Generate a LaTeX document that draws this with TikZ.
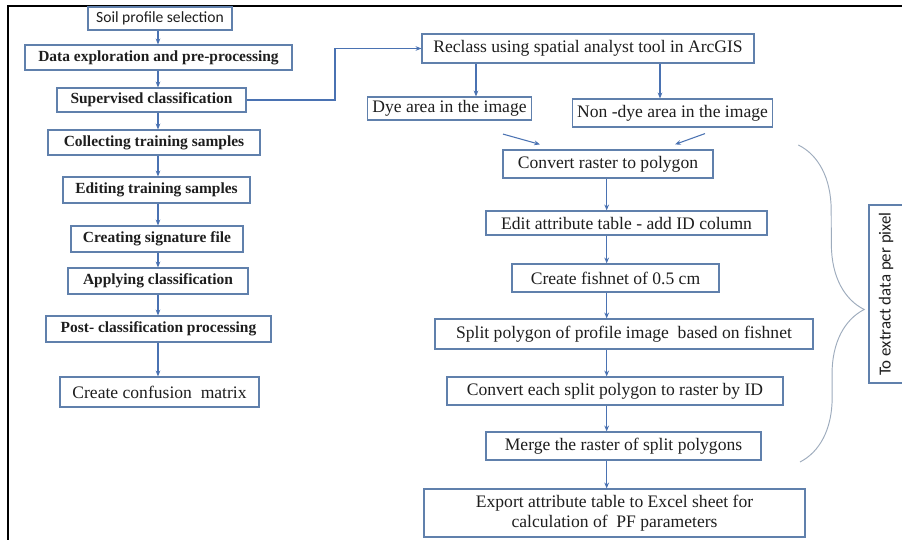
\documentclass[tikz,border=0pt]{standalone}
\usepackage{fontspec}
\setmainfont{Liberation Serif}
\newfontfamily\calibri{Carlito}
\usetikzlibrary{arrows.meta, decorations.pathreplacing}
\definecolor{boxline}{HTML}{6080AC}
\definecolor{flowblue}{HTML}{4A72B2}
\definecolor{bracegray}{HTML}{9EACBD}
\definecolor{txt}{HTML}{1E1E1E}

\tikzset{
  procbox/.style={draw=boxline, line width=1pt, fill=white, text=txt,
    inner xsep=4pt, inner ysep=2pt, align=center},
  leftstep/.style={procbox, font=\fontsize{13.2}{15}\selectfont\bfseries},
  rightstep/.style={procbox, font=\fontsize{15}{17}\selectfont},
  flow/.style={->, flowblue, line width=0.9pt},
}

\begin{document}
\begin{tikzpicture}[>={Stealth[length=5pt, width=4pt]}]

% Page and frame
\useasboundingbox (0,0) rectangle (27.06,-16.2);
\fill[white] (0,0) rectangle (27.06,-16.2);
\draw[black, line width=1.6pt] (27.06,-0.18) -- (0.24,-0.18) -- (0.24,-16.2);

% Columns the arrows run along
\coordinate (lspine) at (4.74,0);
\coordinate (rspine) at (18.2,0);
\coordinate (bendR) at (10.05,0);
\coordinate (dyeX) at (14.28,0);
\coordinate (nondyeX) at (19.8,0);

% =========== LEFT COLUMN: classification ===========
\node[procbox, font=\calibri\fontsize{13.3}{15}\selectfont,
      minimum width=4.32cm, minimum height=0.69cm] (soil) at (4.80,-0.555) {Soil profile selection};
\node[leftstep, minimum width=8.01cm, minimum height=0.75cm] (explore) at (4.755,-1.725) {Data exploration and pre-processing};
\node[leftstep, minimum width=5.67cm, minimum height=0.72cm] (superv) at (4.545,-3.0) {Supervised classification};
\node[leftstep, minimum width=6.36cm, minimum height=0.75cm] (collect) at (4.62,-4.275) {Collecting training samples};
\node[leftstep, minimum width=5.61cm, minimum height=0.78cm] (edit) at (4.695,-5.7) {Editing training samples};
\node[leftstep, minimum width=5.16cm, minimum height=0.78cm] (signature) at (4.71,-7.17) {Creating signature file};
\node[leftstep, minimum width=5.4cm, minimum height=0.78cm] (apply) at (4.74,-8.43) {Applying classification};
\node[leftstep, minimum width=6.75cm, minimum height=0.78cm] (post) at (4.755,-9.87) {Post- classification processing};
\node[rightstep, minimum width=5.97cm, minimum height=0.9cm] (confusion) at (4.785,-11.76) {Create confusion~ matrix};

\foreach \a/\b in {soil/explore, explore/superv, superv/collect, collect/edit,
                   edit/signature, signature/apply, apply/post, post/confusion}
  \draw[flow] (\a.south -| lspine) -- (\b.north -| lspine);

% =========== RIGHT COLUMN: per-pixel extraction ===========
\node[rightstep, minimum width=9.96cm, minimum height=0.87cm] (reclass) at (17.64,-1.455) {Reclass using spatial analyst tool in ArcGIS};
\node[rightstep, minimum width=4.83cm, minimum height=0.69cm] (dye) at (13.485,-3.255) {Dye area in the image};
\node[rightstep, minimum width=5.85cm, minimum height=0.84cm] (nondye) at (20.175,-3.39) {Non -dye area in the image};
\node[rightstep, minimum width=6.3cm, minimum height=0.84cm] (topoly) at (18.24,-4.92) {Convert raster to polygon};
\node[rightstep, minimum width=8.43cm, minimum height=0.72cm] (attrib) at (18.795,-6.69) {Edit attribute table - add ID column};
\node[rightstep, minimum width=6.21cm, minimum height=0.84cm] (fishnet) at (18.465,-8.34) {Create fishnet of 0.5 cm};
\node[rightstep, minimum width=11.34cm, minimum height=0.9cm] (split) at (18.72,-10.02) {Split polygon of profile image~ based on fishnet};
\node[rightstep, minimum width=10.08cm, minimum height=0.84cm] (toraster) at (18.45,-11.73) {Convert each split polygon to raster by ID};
\node[rightstep, minimum width=8.25cm, minimum height=0.84cm] (merge) at (18.705,-13.38) {Merge the raster of split polygons};
\node[rightstep, minimum width=11.43cm, minimum height=1.44cm] (export) at (18.435,-15.39)
  {Export attribute table to Excel sheet for\\calculation of~ PF parameters};

% Link from the classification into ArcGIS
\draw[flow] (superv.east) -- (superv.east -| bendR) |- (reclass.west);

\draw[flow] (reclass.south -| dyeX) -- (dye.north -| dyeX);
\draw[flow] (reclass.south -| nondyeX) -- (nondye.north -| nondyeX);
\draw[flow] ([shift={(1.605,-0.405)}]dye.south) -- ([shift={(-2.04,0.15)}]topoly.north);
\draw[flow] ([shift={(0.975,-0.18)}]nondye.south) -- ([shift={(2.01,0.15)}]topoly.north);

\foreach \a/\b in {topoly/attrib, attrib/fishnet, fishnet/split,
                   split/toraster, toraster/merge, merge/export}
  \draw[flow] (\a.south -| rspine) -- (\b.north -| rspine);

% Brace over the per-pixel steps
\draw[decorate, decoration={brace, amplitude=1.95cm, aspect=0.52}, bracegray, line width=0.8pt]
  (23.95,-4.35) -- (24.0,-13.86);
\node[draw=boxline, line width=1pt, rotate=90, text=txt,
      minimum width=5.34cm, minimum height=1.02cm,
      font=\calibri\fontsize{14.4}{16}\selectfont] (pixel) at (26.58,-8.82) {To extract data per pixel};

\end{tikzpicture}
\end{document}
